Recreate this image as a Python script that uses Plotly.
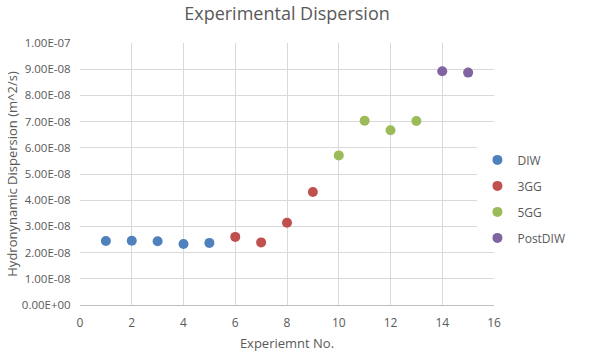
import plotly.graph_objects as go

series_names = ["DIW", "3GG", "5GG", "PostDIW"]
series_x = [[1, 2, 3, 4, 5], [6, 7, 8, 9], [10, 11, 12, 13], [14, 15]]
series_y = [
    [2.44e-8, 2.45e-8, 2.43e-8, 2.33e-8, 2.37e-8],
    [2.60e-8, 2.39e-8, 3.14e-8, 4.31e-8],
    [5.71e-8, 7.03e-8, 6.67e-8, 7.02e-8],
    [8.92e-8, 8.87e-8],
]
colors = ["#4F81BD", "#C0504D", "#9BBB59", "#8064A2"]
y_tick_vals = [0, 1e-8, 2e-8, 3e-8, 4e-8, 5e-8, 6e-8, 7e-8, 8e-8, 9e-8, 1e-7]
y_tick_text = ["0.00E+00", "1.00E-08", "2.00E-08", "3.00E-08", "4.00E-08", "5.00E-08",
               "6.00E-08", "7.00E-08", "8.00E-08", "9.00E-08", "1.00E-07"]
x_tick_vals = [0, 2, 4, 6, 8, 10, 12, 14, 16]

fig = go.Figure()
for name, xs, ys, c in zip(series_names, series_x, series_y, colors):
    fig.add_trace(go.Scatter(x=xs, y=ys, mode="markers", name=name, legendgroup=name,
                             marker=dict(color=c, size=10, line=dict(width=0))))

font_fam = "Open Sans, Liberation Sans, sans-serif"
fig.update_layout(
    width=593, height=357,
    margin=dict(l=80, r=99, t=43, b=52),
    paper_bgcolor="white", plot_bgcolor="white",
    font=dict(family=font_fam, size=11, color="#595959"),
    title=dict(text="Experimental Dispersion", x=0.5, xanchor="center", xref="paper",
               y=0.962, yanchor="middle", font=dict(size=18, color="#595959")),
    xaxis=dict(range=[0, 16], tickvals=x_tick_vals, showgrid=True, gridcolor="#D9D9D9",
               gridwidth=1, zeroline=False, showline=True, linecolor="#BFBFBF",
               ticks="outside", ticklen=7, tickcolor="rgba(0,0,0,0)",
               tickfont=dict(size=12), automargin=False,
               title=dict(text="Experiemnt No.", font=dict(size=13), standoff=8)),
    yaxis=dict(range=[0, 1e-7], tickvals=y_tick_vals, ticktext=y_tick_text, showgrid=True,
               gridcolor="#D9D9D9", gridwidth=1, zeroline=False, showline=False,
               ticks="outside", ticklen=6, tickcolor="rgba(0,0,0,0)",
               tickfont=dict(size=11.5), automargin=False,
               title=dict(text="Hydronynamic Dispersion (m^2/s)", font=dict(size=13), standoff=1)),
    legend=dict(x=0.96, xanchor="left", y=0.405, yanchor="middle", tracegroupgap=7,
                font=dict(size=12, color="#595959"), itemwidth=30),
    showlegend=True,
)
fig.write_html("out.html")
